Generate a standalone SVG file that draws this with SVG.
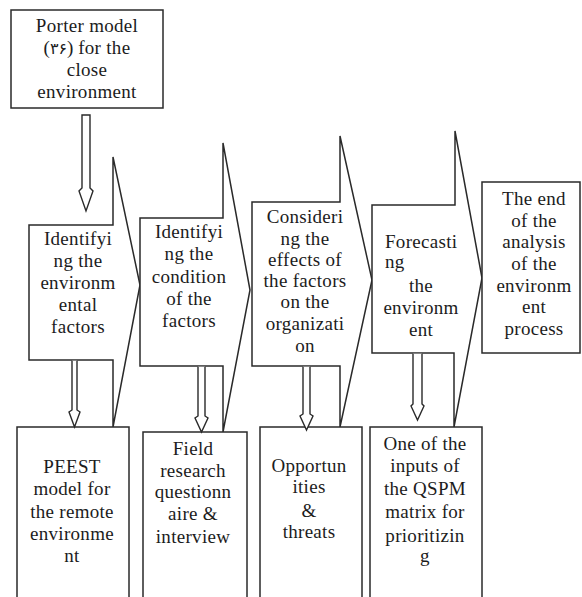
<svg xmlns="http://www.w3.org/2000/svg" width="582" height="597" viewBox="0 0 582 597">
  <style>
    .shape { fill: #ffffff; stroke: #2a2a2a; stroke-width: 1.5; stroke-linejoin: miter; }
    .link { fill: #ffffff; stroke: #2a2a2a; stroke-width: 1.4; stroke-linejoin: miter; }
    text { font-family: 'Liberation Serif', 'Times New Roman', serif; font-size: 19px; fill: #1c1c1c; text-anchor: middle; letter-spacing: 0.3px; }
    text.start { text-anchor: start; }
    tspan.digits { font-family: 'DejaVu Sans', sans-serif; font-size: 16px; }
  </style>
  <rect width="582" height="597" fill="#ffffff"/>

  <!-- source model for the close environment -->
  <g id="porter">
    <rect class="shape" x="11" y="10" width="152" height="98"/>
    <text x="87" y="32">Porter model</text>
    <text x="87" y="54">(<tspan class="digits">۳۶</tspan>) for the</text>
    <text x="87" y="76">close</text>
    <text x="87" y="98">environment</text>
  </g>

  <!-- process steps drawn as block arrows -->
  <g id="step1">
    <path class="shape" d="M29,225 H113 V157 L140,285 L113,427 V360 H29 Z"/>
    <text x="78" y="245">Identifyi</text>
    <text x="78" y="267">ng the</text>
    <text x="78" y="289">environm</text>
    <text x="78" y="311">ental</text>
    <text x="78" y="333">factors</text>
  </g>

  <g id="step2">
    <path class="shape" d="M140,218 H223 V143 L250,290 L223,432 V366 H140 Z"/>
    <text x="189" y="238">Identifyi</text>
    <text x="189" y="260">ng the</text>
    <text x="189" y="283">condition</text>
    <text x="189" y="305">of the</text>
    <text x="189" y="327">factors</text>
  </g>

  <g id="step3">
    <path class="shape" d="M252,202 H340 V136 L372,280 L340,427 V366 H252 Z"/>
    <text x="305" y="223">Consideri</text>
    <text x="305" y="245">ng the</text>
    <text x="305" y="266">effects of</text>
    <text x="305" y="287">the factors</text>
    <text x="305" y="308">on the</text>
    <text x="305" y="330">organizati</text>
    <text x="305" y="352">on</text>
  </g>

  <g id="step4">
    <path class="shape" d="M372,205 H455 V131 L482,278 L454,427 V353 H372 Z"/>
    <text class="start" x="385" y="248">Forecasti</text>
    <text class="start" x="385" y="268">ng</text>
    <text x="421" y="292">the</text>
    <text x="421" y="314">environm</text>
    <text x="421" y="336">ent</text>
  </g>

  <g id="end">
    <rect class="shape" x="482" y="182" width="98" height="171"/>
    <text x="534" y="205">The end</text>
    <text x="534" y="227">of the</text>
    <text x="534" y="248">analysis</text>
    <text x="534" y="270">of the</text>
    <text x="534" y="292">environm</text>
    <text x="534" y="313">ent</text>
    <text x="534" y="335">process</text>
  </g>

  <!-- outputs of each step -->
  <g id="peest">
    <rect class="shape" x="17" y="427" width="112" height="180"/>
    <text x="72" y="473">PEEST</text>
    <text x="72" y="495">model for</text>
    <text x="72" y="518">the remote</text>
    <text x="72" y="540">environme</text>
    <text x="72" y="562">nt</text>
  </g>

  <g id="field">
    <rect class="shape" x="143" y="432" width="104" height="175"/>
    <text x="193" y="455">Field</text>
    <text x="193" y="477">research</text>
    <text x="193" y="498">questionn</text>
    <text x="193" y="520">aire &amp;</text>
    <text x="193" y="543">interview</text>
  </g>

  <g id="swot">
    <rect class="shape" x="260" y="427" width="102" height="180"/>
    <text x="309" y="472">Opportun</text>
    <text x="309" y="493">ities</text>
    <text x="309" y="517">&amp;</text>
    <text x="309" y="538">threats</text>
  </g>

  <g id="qspm">
    <rect class="shape" x="370" y="427" width="112" height="180"/>
    <text x="425" y="450">One of the</text>
    <text x="425" y="472">inputs of</text>
    <text x="425" y="495">the QSPM</text>
    <text x="425" y="518">matrix for</text>
    <text x="425" y="542">prioritizin</text>
    <text x="425" y="562">g</text>
  </g>

  <!-- narrow hollow arrows between nodes -->
  <g id="connectors">
    <path class="link" d="M82,115 H90 V188 L93,191 L86,211 L79,191 L82,188 Z"/>
    <path class="link" d="M72,360.8 V410 L69,412 L74.5,427 L80,412 L77,410 V360.8"/>
    <path class="link" d="M198,366.8 V416 L195,418 L201.5,432 L208,418 L205,416 V366.8"/>
    <path class="link" d="M303,366.8 V414 L300,416 L306.5,430 L313,416 L310,414 V366.8"/>
    <path class="link" d="M413,353.8 V404 L411,406 L417.5,420 L424,406 L422,404 V353.8"/>
  </g>
</svg>
